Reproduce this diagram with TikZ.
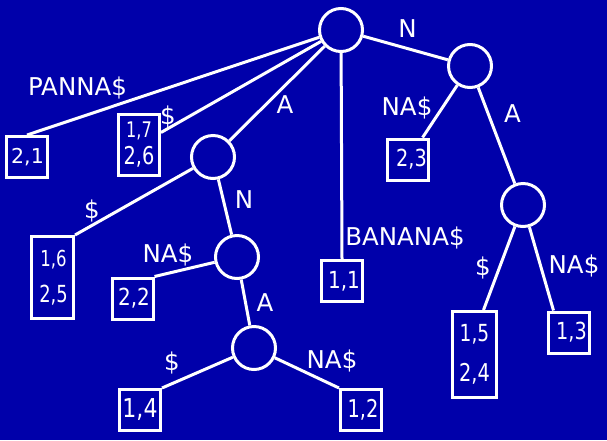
\documentclass[tikz,border=0pt]{standalone}
\usepackage{graphicx}
\usepackage{fontspec}
\setmainfont{DejaVu Sans}
\newcommand\fsz[2]{\fontsize{#1}{#2}\selectfont}
\newcommand\dg[3]{\scalebox{#2}[1]{\fsz{#1}{24}#3}}
\definecolor{bg}{RGB}{0,0,170}
\begin{document}
\begin{tikzpicture}[x=1pt,y=-1pt,
 every node/.style={text=white},
 circ/.style={circle,draw=white,line width=3pt,minimum size=43pt,inner sep=0pt},
 leaf/.style={rectangle,draw=white,line width=3pt,minimum width=41pt,minimum height=41pt,inner sep=0pt,font=\fsz{21}{24},align=center},
 lbl/.style={anchor=base,font=\fontsize{24.5}{28}\selectfont,inner sep=0pt},
 edge/.style={draw=white,line width=3pt}]
\fill[bg] (0,0) rectangle (607,440);
\useasboundingbox (0,0) rectangle (607,440);
% internal nodes
\node[circ] (root) at (341,30) {};
\node[circ] (n) at (470,66) {};
\node[circ] (a) at (213,157) {};
\node[circ] (an) at (237,257) {};
\node[circ] (ana) at (254,348) {};
\node[circ] (na) at (523,205) {};
% leaves
\node[leaf] (b21) at (27,157) {\hspace{1pt}\dg{20.5}{1.0}{2,1}};
\node[leaf,minimum height=61pt] (b17) at (139,145) {\dg{21.5}{0.75}{1,7}\\[3pt]\dg{24.5}{0.79}{2,6}};
\node[leaf] (b23) at (408,159.5) {\hspace{7pt}\dg{23.5}{0.82}{2,3}};
\node[leaf] (b11) at (342,281) {\hspace{4pt}\dg{23.5}{0.85}{1,1}};
\node[leaf,minimum width=42pt,minimum height=82pt] (b16) at (52.5,277.5) {\hspace{2pt}\dg{22}{0.75}{1,6}\\[11.8pt]\hspace{2pt}\dg{23.5}{0.76}{2,5}};
\node[leaf] (b22) at (132.5,298.5) {\hspace{3pt}\dg{23.5}{0.85}{2,2}};
\node[leaf] (b14) at (140,410) {\dg{26}{0.85}{1,4}};
\node[leaf] (b12) at (361,410) {\hspace{4pt}\dg{24.5}{0.79}{1,2}};
\node[leaf,minimum width=44pt,minimum height=86pt] (b15) at (474.5,354.5) {\dg{23.5}{0.79}{1,5}\\[16.4pt]\dg{24.5}{0.79}{2,4}};
\node[leaf] (b13) at (568.5,332.5) {\hspace{6pt}\dg{23.5}{0.82}{1,3}};
% edges
\draw[edge] (root) -- (b21.north);
\draw[edge] (root) -- (b17);
\draw[edge] (root) -- (a);
\draw[edge] (root) -- (b11.north);
\draw[edge] (root) -- (n);
\draw[edge] (n) -- (b23);
\draw[edge] (n) -- (na);
\draw[edge] (a) -- (b16.north east);
\draw[edge] (a) -- (an);
\draw[edge] (an) -- (b22.north east);
\draw[edge] (an) -- (ana);
\draw[edge] (ana) -- (b14.north east);
\draw[edge] (ana) -- (b12.north west);
\draw[edge] (na) -- ([xshift=9pt]b15.north);
\draw[edge] (na) -- ([xshift=-15pt]b13.north);
% labels
\node[lbl] (l1) at (77.5,95) {PANNA\$};
\node[lbl] (l2) at (168,124.5) {\$};
\node[lbl] (l3) at (285,113) {A};
\node[lbl] (l4) at (244,208) {N};
\node[lbl] (l5) at (92,218) {\$};
\node[lbl] (l6) at (407.5,37) {N};
\node[lbl] (l7) at (407,115) {NA\$};
\node[lbl] (l8) at (512.5,122) {A};
\node[lbl] (l9) at (405,245) {BANANA\$};
\node[lbl] (l10) at (483,275) {\$};
\node[lbl] (l11) at (574,273) {NA\$};
\node[lbl] (l12) at (332,368) {NA\$};
\node[lbl] (l13) at (168,262) {NA\$};
\node[lbl] (l14) at (265,311) {A};
\node[lbl] (l15) at (172,370) {\$};
\end{tikzpicture}
\end{document}
